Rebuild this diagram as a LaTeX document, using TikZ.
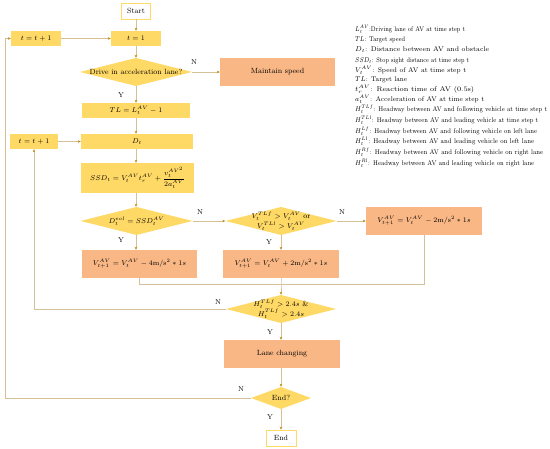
\documentclass[tikz,border=0pt]{standalone}
\usepackage{amsmath}
\usetikzlibrary{arrows.meta}
\definecolor{yel}{RGB}{255,217,102}
\definecolor{org}{RGB}{248,183,133}
\definecolor{linec}{RGB}{214,192,152}
\definecolor{arrc}{RGB}{184,140,20}
\newcommand{\legw}[2]{\resizebox{#1pt}{\height}{#2}}
\begin{document}
\begin{tikzpicture}[x=1pt,y=-1pt,
  every node/.style={font=\fontsize{7.5}{9.5}\selectfont},
  ybox/.style={fill=yel,inner sep=0,minimum width=#1},
  obox/.style={fill=org,inner sep=0,minimum width=#1},
  tbox/.style={draw=yel,line width=0.6pt,fill=white,inner sep=0,minimum width=#1,minimum height=16},
  dtext/.style={inner sep=0,align=center},
  conn/.style={draw=linec,line width=0.7pt,-{Stealth[length=3pt,width=2.6pt,color=arrc]}},
  plain/.style={draw=linec,line width=0.7pt},
  lab/.style={font=\fontsize{7}{8}\selectfont},
  leg/.style={anchor=west,inner sep=0,font=\fontsize{6.8}{7.5}\selectfont}]
\useasboundingbox (0,0) rectangle (550,449);
\newcommand{\dia}[6]{%
  \fill[yel] (#2-#4/2,#3) -- (#2,#3-#5/2) -- (#2+#4/2,#3) -- (#2,#3+#5/2) -- cycle;
  \node[dtext,minimum width=#4,minimum height=#5] (#1) at (#2,#3) {#6};}
% nodes
\node[tbox=29] (start) at (136,11) {Start};
\node[ybox=50,minimum height=15] (t1) at (136,38.5) {$t=1$};
\node[ybox=50,minimum height=15] (tinc1) at (36,38.5) {$t=t+1$};
\dia{d1}{136}{72}{112}{28}{Drive in acceleration lane?}
\node[obox=115,minimum height=28] (maint) at (277.5,72) {Maintain speed};
\node[ybox=108,minimum height=15] (tl) at (136,110.5) {$TL=L_t^{AV}-1$};
\node[ybox=112,minimum height=15] (dt) at (137,141.5) {$D_t$};
\node[ybox=48,minimum height=15] (tinc2) at (34,141.5) {$t=t+1$};
\node[ybox=113,minimum height=30] (ssd) at (137.5,178) {$SSD_t=V_t^{AV}t_r^{AV}+\dfrac{v_t^{{AV}^2}}{2a_t^{AV}}$};
\dia{d2}{136.5}{221}{112}{28}{$D_t^{eol}=SSD_t^{AV}$}
\dia{d3}{281}{221}{111}{28}{$V_t^{TLf}>V_t^{AV}$ or\\$V_t^{TLl}>V_t^{AV}$}
\node[obox=116,minimum height=28] (b2m) at (424,221) {$V_{t+1}^{AV}=V_t^{AV}-2\mathrm{m/s^2}*1s$};
\node[obox=115,minimum height=28] (b4m) at (139.5,264) {$V_{t+1}^{AV}=V_t^{AV}-4\mathrm{m/s^2}*1s$};
\node[obox=116,minimum height=28] (b2p) at (281,264) {$V_{t+1}^{AV}=V_t^{AV}+2\mathrm{m/s^2}*1s$};
\coordinate (mL) at (139.5,284);
\coordinate (mR) at (424,284);
\coordinate (mC) at (281,284);
\dia{dh}{281}{309}{110}{28}{$H_t^{TLf}>2.4s$ \&\\$H_t^{TLf}>2.4s$}
\node[obox=116,minimum height=28] (lane) at (282,354) {Lane changing};
\dia{dend}{281}{398}{60}{22}{End?}
\node[tbox=30] (end) at (281,438) {End};
\coordinate (l1) at (34,309);
\coordinate (l2a) at (5,398);
\coordinate (l2b) at (5,38.5);
% connectors
\draw[conn] (start) -- (t1);
\draw[conn] (tinc1) -- (t1);
\draw[conn] (t1) -- (d1.north);
\draw[conn] (d1.east) -- (maint);
\draw[conn] (d1.south) -- (tl);
\draw[conn] (tl) -- (tl.south |- dt.north);
\draw[conn] (tinc2) -- (dt);
\draw[conn] (dt.south -| tl.south) -- (tl.south |- ssd.north);
\draw[conn] (tl.south |- ssd.south) -- (tl.south |- d2.north);
\draw[conn] (d2.east) -- (d3.west);
\draw[conn] (d3.east) -- (b2m.west);
\draw[conn] (d3.south) -- (b2p.north);
\draw[conn] (tl.south |- d2.south) -- (tl.south |- b4m.north);
\draw[plain] (b4m.south) -- (mL) -- (mR) -- (b2m.south);
\draw[conn] (b2p.south) -- (mC) -- (dh.north);
\draw[conn] (dh.west) -- (l1) -- (tinc2.south);
\draw[conn] (dh.south) -- (dh.south |- lane.north);
\draw[conn] (dh.south |- lane.south) -- (dend.north);
\draw[conn] (dend.west) -- (l2a) -- (l2b) -- (tinc1.west);
\draw[conn] (dend.south) -- (end.north);
% labels
\node[lab] at (194,62) {N};
\node[lab] at (121,95) {Y};
\node[lab] at (200,212) {N};
\node[lab] at (342,212) {N};
\node[lab] at (121,240) {Y};
\node[lab] at (269,242) {Y};
\node[lab] at (218,302) {N};
\node[lab] at (270,332) {Y};
\node[lab] at (241,389) {N};
\node[lab] at (270,417) {Y};
% legend
\node[leg] (g1) at (355,29) {\legw{110}{$L_t^{AV}$:Driving lane of AV at time step t}};
\node[leg] (g2) at (355,39.5) {\legw{50}{$TL$: Target speed}};
\node[leg] (g3) at (355,50) {\legw{134}{$D_t$: Distance between AV and obstacle}};
\node[leg] (g4) at (355,60.5) {\legw{114}{$SSD_t$: Stop sight distance at time step t}};
\node[leg] (g5) at (355,70.5) {\legw{111}{$V_t^{AV}$: Speed of AV at time step t}};
\node[leg] (g6) at (355,80) {\legw{52}{$TL$: Target lane}};
\node[leg] (g7) at (355,89.5) {\legw{119}{$t_r^{AV}$: Reaction time of AV (0.5s)}};
\node[leg] (g8) at (355,99) {\legw{129}{$a_t^{AV}$: Acceleration of AV at time step t}};
\node[leg] (g9) at (355,109.5) {\legw{192}{$H_t^{TLf}$: Headway between AV and following vehicle at time step t}};
\node[leg] (g10) at (355,120) {\legw{183}{$H_t^{TLl}$: Headway between AV and leading vehicle at time step t}};
\node[leg] (g11) at (355,131) {\legw{182}{$H_t^{Lf}$: Headway between AV and following vehicle on left lane}};
\node[leg] (g12) at (355,141.5) {\legw{179}{$H_t^{Ll}$: Headway between AV and leading vehicle on left lane}};
\node[leg] (g13) at (355,152) {\legw{188}{$H_t^{Rf}$: Headway between AV and following vehicle on right lane}};
\node[leg] (g14) at (355,163) {\legw{179}{$H_t^{Rl}$: Headway between AV and leading vehicle on right lane}};
\end{tikzpicture}
\end{document}
